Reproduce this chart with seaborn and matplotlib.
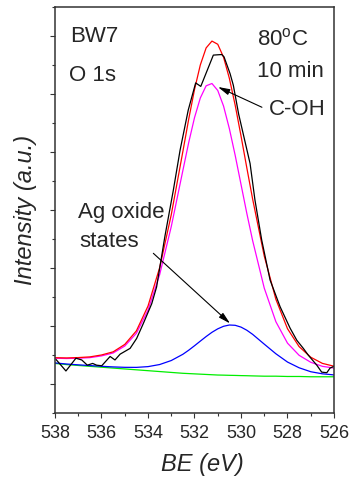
import numpy as np
import pandas as pd
import matplotlib
matplotlib.use("Agg")
import matplotlib.pyplot as plt
from matplotlib.ticker import MultipleLocator, NullFormatter, FixedLocator
import seaborn as sns

# ---------------- data ----------------
# binding energy grid of the fitted curves (eV)
be_fit = [538.0, 537.5, 537.0, 536.5, 536.0, 535.5, 535.0, 534.5, 534.0, 533.5,
          533.0, 532.5, 532.25, 532.0, 531.75, 531.5, 531.25, 531.0, 530.75,
          530.5, 530.25, 530.0, 529.75, 529.5, 529.0, 528.5, 528.0, 527.5,
          527.0, 526.5, 526.0]
# background (green)
background = [0.85, 0.83, 0.815, 0.80, 0.785, 0.77, 0.755, 0.74, 0.725, 0.71,
              0.695, 0.68, 0.675, 0.67, 0.665, 0.66, 0.655, 0.65, 0.648,
              0.645, 0.643, 0.64, 0.638, 0.635, 0.63, 0.63, 0.625, 0.625,
              0.62, 0.62, 0.62]
# C-OH component (magenta)
c_oh = [0.94, 0.935, 0.94, 0.95, 0.98, 1.03, 1.15, 1.37, 1.77, 2.38,
        3.21, 4.18, 4.66, 5.09, 5.43, 5.64, 5.68, 5.56, 5.29,
        4.90, 4.44, 3.94, 3.44, 2.97, 2.15, 1.57, 1.20, 0.99,
        0.87, 0.80, 0.77]
# Ag oxide component (blue)
ag_oxide = [0.859, 0.840, 0.826, 0.813, 0.801, 0.790, 0.783, 0.782, 0.795, 0.831,
            0.900, 1.008, 1.078, 1.155, 1.235, 1.314, 1.387, 1.447, 1.491,
            1.513, 1.508, 1.477, 1.423, 1.352, 1.183, 1.017, 0.874, 0.775,
            0.707, 0.671, 0.652]
# fitted envelope (red)
envelope = [0.949, 0.945, 0.951, 0.963, 0.996, 1.05, 1.178, 1.412, 1.84, 2.50,
            3.415, 4.508, 5.063, 5.575, 6.00, 6.294, 6.412, 6.357, 6.133,
            5.768, 5.305, 4.777, 4.225, 3.687, 2.703, 1.957, 1.449, 1.14,
            0.957, 0.851, 0.802]
# measured spectrum (black)
be_raw = [537.96, 537.53, 537.10, 536.85, 536.61, 536.38, 536.21, 535.99, 535.63,
          535.42, 535.20, 534.77, 534.49, 534.20, 533.84, 533.63, 533.27, 532.91,
          532.62, 532.27, 531.95, 531.73, 531.19, 530.83, 530.73, 530.47, 530.33,
          530.10, 529.61, 529.40, 529.11, 528.75, 528.32, 527.89, 527.60, 527.32,
          527.10, 526.74, 526.53, 526.31, 526.17, 526.00]
raw = [0.92, 0.72, 0.94, 0.91, 0.82, 0.85, 0.82, 0.81, 0.97,
       0.91, 1.01, 1.11, 1.28, 1.54, 1.88, 2.17, 3.05, 3.84,
       4.53, 5.22, 5.69, 5.63, 6.17, 6.18, 6.14, 5.85, 5.65,
       5.15, 4.30, 3.67, 2.98, 2.29, 1.83, 1.46, 1.25, 1.11,
       0.99, 0.82, 0.70, 0.69, 0.77, 0.80]

x_ticks = [538, 536, 534, 532, 530, 528, 526]
x_tick_labels = ["538", "536", "534", "532", "530", "528", "526"]

# ---------------- style ----------------
sns.set_theme(style="ticks")
plt.rcParams["font.family"] = ["Liberation Sans", "DejaVu Sans"]
plt.rcParams["mathtext.fontset"] = "custom"
plt.rcParams["mathtext.rm"] = "Liberation Sans"
plt.rcParams["mathtext.it"] = "Liberation Sans:italic"

fig = plt.figure(figsize=(3.57, 4.88), dpi=100)
ax = fig.add_axes([55 / 357, 1 - 412.7 / 488, 279 / 357, 405.7 / 488])

fit_df = pd.DataFrame({"BE": be_fit, "bg": background, "coh": c_oh,
                       "ag": ag_oxide, "env": envelope})
raw_df = pd.DataFrame({"BE": be_raw, "I": raw})

lw = 0.9
sns.lineplot(data=fit_df, x="BE", y="bg", ax=ax, color="#00ee00", lw=lw, sort=False, estimator=None)
sns.lineplot(data=fit_df, x="BE", y="ag", ax=ax, color="#0000ff", lw=lw, sort=False, estimator=None)
sns.lineplot(data=fit_df, x="BE", y="coh", ax=ax, color="#ff00ff", lw=lw, sort=False, estimator=None)
sns.lineplot(data=fit_df, x="BE", y="env", ax=ax, color="#ff0000", lw=lw, sort=False, estimator=None)
sns.lineplot(data=raw_df, x="BE", y="I", ax=ax, color="black", lw=lw, sort=False, estimator=None)

ax.set_xlim(538, 526)
ax.set_ylim(0, 7)
ax.xaxis.set_major_locator(FixedLocator(x_ticks))
ax.set_xticklabels(x_tick_labels)
ax.xaxis.set_minor_locator(MultipleLocator(1))
ax.yaxis.set_major_locator(FixedLocator([0.5, 1.5, 2.5, 3.5, 4.5, 5.5, 6.5]))
ax.yaxis.set_minor_locator(MultipleLocator(1))
ax.yaxis.set_major_formatter(NullFormatter())

for sp in ax.spines.values():
    sp.set_color("#333333")
    sp.set_linewidth(1.1)
    sp.set_visible(True)
ax.tick_params(axis="both", which="major", direction="out", length=3.5, width=0.8,
               color="#333333", top=False, right=False, labelsize=13, pad=5)
ax.tick_params(axis="both", which="minor", direction="out", length=2.0, width=0.8,
               color="#333333", top=False, right=False)

ax.set_xlabel("BE (eV)", fontsize=17, style="italic")
ax.xaxis.set_label_coords(0.53, -0.1)
ax.set_ylabel("Intensity (a.u.)", fontsize=17, style="italic")
ax.yaxis.set_label_coords(-0.064, 0.5)

fs = 16
ax.text(537.35, 6.39, "BW7", fontsize=fs, va="baseline", ha="left")
ax.text(537.40, 5.72, "O 1s", fontsize=fs, va="baseline", ha="left")
ax.text(529.31, 6.34, r"80$^{\mathrm{o}}$C", fontsize=fs, va="baseline", ha="left")
ax.text(529.31, 5.80, "10 min", fontsize=fs, va="baseline", ha="left")
ax.text(528.80, 5.13, "C-OH", fontsize=fs, va="baseline", ha="left")
ax.text(537.01, 3.36, "Ag oxide", fontsize=fs, va="baseline", ha="left")
ax.text(536.97, 2.86, "states", fontsize=fs, va="baseline", ha="left")

arrow = dict(arrowstyle="-|>,head_length=0.7,head_width=0.18", color="black",
             lw=0.8, shrinkA=0, shrinkB=0, mutation_scale=10)
ax.annotate("", xy=(530.99, 5.62), xytext=(529.10, 5.27), arrowprops=arrow)
ax.annotate("", xy=(530.47, 1.54), xytext=(533.77, 2.75), arrowprops=arrow)

fig.savefig("out.png", dpi=100)
